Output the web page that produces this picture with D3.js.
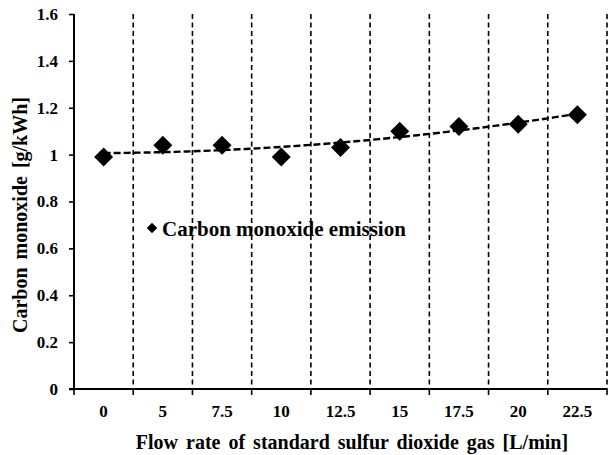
<!DOCTYPE html>
<html>
<head>
<meta charset="utf-8">
<script src="https://cdn.jsdelivr.net/npm/d3@7"></script>
<style>
  body { margin: 0; background: #fff; }
</style>
</head>
<body>
<div id="chart"></div>
<script>
// data
const categories = ["0", "5", "7.5", "10", "12.5", "15", "17.5", "20", "22.5"];
const coEmission = [0.99, 1.04, 1.04, 0.99, 1.03, 1.10, 1.12, 1.13, 1.17];
const yTicks = [0, 0.2, 0.4, 0.6, 0.8, 1, 1.2, 1.4, 1.6];
const yTickLabels = ["0", "0.2", "0.4", "0.6", "0.8", "1", "1.2", "1.4", "1.6"];
const seriesName = "Carbon monoxide emission";

const width = 608;
const height = 455;
const margin = {top: 14, right: 1, bottom: 66, left: 74};
const serif = "Liberation Serif";

const svg = d3.select("#chart").append("svg")
    .attr("width", width)
    .attr("height", height);

svg.append("rect").attr("width", width).attr("height", height).attr("fill", "#fff");

const xScale = d3.scaleBand()
    .domain(categories)
    .range([margin.left, width - margin.right])
    .padding(0);

const yScale = d3.scaleLinear()
    .domain([0, 1.6])
    .range([height - margin.bottom, margin.top]);

const y0 = yScale(0);

// band boundaries (dashed grid + small ticks under the axis)
const bounds = categories.map(c => xScale(c)).concat([xScale.range()[1]]);

svg.append("g").selectAll("line")
    .data(bounds.slice(1))
    .enter().append("line")
    .attr("x1", d => d).attr("x2", d => d)
    .attr("y1", margin.top).attr("y2", y0)
    .attr("stroke", "#000")
    .attr("stroke-width", 1.6)
    .attr("stroke-dasharray", "5,3.5");

svg.append("g").selectAll("line")
    .data(bounds)
    .enter().append("line")
    .attr("x1", d => d).attr("x2", d => d)
    .attr("y1", y0).attr("y2", y0 + 6)
    .attr("stroke", "#000")
    .attr("stroke-width", 1.6);

// y axis
const yAxisG = svg.append("g")
    .attr("transform", `translate(${margin.left},0)`)
    .call(d3.axisLeft(yScale)
        .tickValues(yTicks)
        .tickFormat((d, i) => yTickLabels[i])
        .tickSize(5)
        .tickPadding(11));
yAxisG.select(".domain").remove();
yAxisG.selectAll(".tick line").attr("stroke", "#000").attr("stroke-width", 1.6);
yAxisG.selectAll("text")
    .attr("font-family", serif)
    .attr("font-weight", "bold")
    .attr("font-size", 17)
    .attr("fill", "#000");
yAxisG.append("line")
    .attr("x1", 0).attr("x2", 0)
    .attr("y1", margin.top).attr("y2", y0)
    .attr("stroke", "#000").attr("stroke-width", 2);

// x axis
const xAxisG = svg.append("g")
    .attr("transform", `translate(0,${y0})`)
    .call(d3.axisBottom(xScale).tickSize(0).tickPadding(16));
xAxisG.select(".domain").remove();
xAxisG.selectAll("text")
    .attr("font-family", serif)
    .attr("font-weight", "bold")
    .attr("font-size", 17)
    .attr("fill", "#000");
xAxisG.append("line")
    .attr("x1", margin.left - 5).attr("x2", width - margin.right)
    .attr("y1", 0).attr("y2", 0)
    .attr("stroke", "#000").attr("stroke-width", 2);

// quadratic trend line (least squares on category index, like the spreadsheet does)
function quadFit(ys) {
    let s = [0, 0, 0, 0, 0], t = [0, 0, 0];
    ys.forEach((y, i) => {
        const x = i + 1;
        for (let k = 0; k < 5; k++) s[k] += Math.pow(x, k);
        for (let k = 0; k < 3; k++) t[k] += y * Math.pow(x, k);
    });
    // solve 3x3 system with Cramer's rule
    const m = [[s[0], s[1], s[2]], [s[1], s[2], s[3]], [s[2], s[3], s[4]]];
    const det = a => a[0][0] * (a[1][1] * a[2][2] - a[1][2] * a[2][1])
        - a[0][1] * (a[1][0] * a[2][2] - a[1][2] * a[2][0])
        + a[0][2] * (a[1][0] * a[2][1] - a[1][1] * a[2][0]);
    const D = det(m);
    const coef = [0, 1, 2].map(j => {
        const mj = m.map((row, r) => row.map((v, c) => c === j ? t[r] : v));
        return det(mj) / D;
    });
    return x => coef[0] + coef[1] * x + coef[2] * x * x;
}
const fit = quadFit(coEmission);
const trend = d3.range(0, categories.length - 1 + 0.001, 0.1).map(i => [i, fit(i + 1)]);

const bw = xScale.bandwidth();
const xAt = i => margin.left + bw / 2 + i * bw;

svg.append("path")
    .datum(trend)
    .attr("fill", "none")
    .attr("stroke", "#000")
    .attr("stroke-width", 2.4)
    .attr("stroke-dasharray", "7,3")
    .attr("d", d3.line().x(d => xAt(d[0])).y(d => yScale(d[1])));

// markers
const diamond = d3.symbol().type(d3.symbolDiamond2).size(230);
svg.append("g").selectAll("path")
    .data(coEmission)
    .enter().append("path")
    .attr("d", diamond)
    .attr("transform", (d, i) => `translate(${xScale(categories[i]) + bw / 2},${yScale(d)})`)
    .attr("fill", "#000");

// legend
const legend = svg.append("g").attr("transform", "translate(152,228)");
legend.append("path")
    .attr("d", d3.symbol().type(d3.symbolDiamond2).size(70))
    .attr("fill", "#000");
legend.append("text")
    .attr("x", 10)
    .attr("y", 8)
    .attr("font-family", serif)
    .attr("font-size", 21)
    .attr("font-weight", "bold")
    .text(seriesName);

// axis titles
svg.append("text")
    .attr("x", 352)
    .attr("y", 449)
    .attr("text-anchor", "middle")
    .attr("font-family", serif)
    .attr("font-size", 20)
    .attr("font-weight", "bold")
    .attr("word-spacing", "3px")
    .text("Flow rate of standard sulfur dioxide gas [L/min]");

svg.append("text")
    .attr("transform", "translate(27,215) rotate(-90)")
    .attr("text-anchor", "middle")
    .attr("font-family", serif)
    .attr("font-size", 20)
    .attr("font-weight", "bold")
    .attr("word-spacing", "3px")
    .text("Carbon monoxide [g/kWh]");
</script>
</body>
</html>
